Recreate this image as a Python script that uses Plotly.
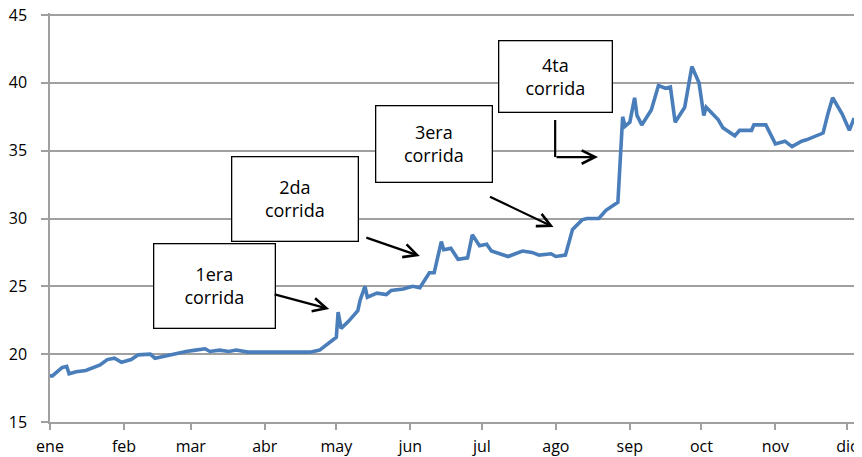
import plotly.graph_objects as go

dates = [
    "2018-01-01", "2018-01-02", "2018-01-06", "2018-01-08", "2018-01-09", "2018-01-12",
    "2018-01-16", "2018-01-19", "2018-01-22", "2018-01-25", "2018-01-28", "2018-01-31",
    "2018-02-04", "2018-02-07", "2018-02-12", "2018-02-14", "2018-02-19", "2018-02-23",
    "2018-02-27", "2018-03-03", "2018-03-07", "2018-03-09", "2018-03-13", "2018-03-17",
    "2018-03-20", "2018-03-25", "2018-04-20", "2018-04-24", "2018-04-27", "2018-05-01",
    "2018-05-01 18:00", "2018-05-03", "2018-05-06", "2018-05-10", "2018-05-11", "2018-05-13",
    "2018-05-14", "2018-05-18", "2018-05-22", "2018-05-24", "2018-05-29", "2018-06-02",
    "2018-06-05", "2018-06-09", "2018-06-11", "2018-06-14", "2018-06-15", "2018-06-18",
    "2018-06-21", "2018-06-25", "2018-06-27", "2018-06-30", "2018-07-03", "2018-07-05",
    "2018-07-12", "2018-07-18", "2018-07-22", "2018-07-25", "2018-07-30", "2018-08-01",
    "2018-08-05", "2018-08-08", "2018-08-12", "2018-08-14", "2018-08-19", "2018-08-22",
    "2018-08-27", "2018-08-29", "2018-08-30", "2018-09-01", "2018-09-03", "2018-09-04",
    "2018-09-06", "2018-09-10", "2018-09-13", "2018-09-16", "2018-09-18", "2018-09-20",
    "2018-09-24", "2018-09-27", "2018-09-30", "2018-10-02", "2018-10-03", "2018-10-08",
    "2018-10-10", "2018-10-15", "2018-10-17", "2018-10-22", "2018-10-23", "2018-10-28",
    "2018-11-01", "2018-11-05", "2018-11-08", "2018-11-12", "2018-11-14", "2018-11-21",
    "2018-11-23", "2018-11-25", "2018-11-29", "2018-12-02", "2018-12-04",
]
values = [
    18.4, 18.4, 19.0, 19.1, 18.55, 18.7,
    18.8, 19.0, 19.2, 19.6, 19.7, 19.4,
    19.6, 19.95, 20.0, 19.7, 19.9, 20.0,
    20.2, 20.3, 20.4, 20.2, 20.3, 20.2,
    20.3, 20.15, 20.15, 20.3, 20.7, 21.25,
    23.1, 21.9, 22.4, 23.2, 24.0, 25.0,
    24.2, 24.5, 24.4, 24.7, 24.8, 25.0,
    24.9, 26.0, 26.0, 28.3, 27.7, 27.8,
    27.0, 27.1, 28.8, 28.0, 28.1, 27.6,
    27.2, 27.6, 27.5, 27.3, 27.4, 27.2,
    27.3, 29.2, 29.9, 30.0, 30.0, 30.6,
    31.2, 37.5, 36.8, 37.1, 38.9, 37.6,
    36.9, 38.0, 39.8, 39.6, 39.7, 37.1,
    38.2, 41.2, 40.0, 37.6, 38.2, 37.3,
    36.7, 36.1, 36.5, 36.5, 36.9, 36.9,
    35.5, 35.7, 35.3, 35.7, 35.8, 36.3,
    37.7, 38.9, 37.7, 36.5, 37.4,
]

month_ticks = ["2018-01-01", "2018-02-01", "2018-03-01", "2018-04-01", "2018-05-01", "2018-06-01",
               "2018-07-01", "2018-08-01", "2018-09-01", "2018-10-01", "2018-11-01", "2018-12-01"]
month_labels = ["ene", "feb", "mar", "abr", "may", "jun", "jul", "ago", "sep", "oct", "nov", "dic"]
y_ticks = [15, 20, 25, 30, 35, 40, 45]

box_texts = ["1era<br>corrida", "2da<br>corrida", "3era<br>corrida", "4ta<br>corrida"]
box_x = ["2018-03-11", "2018-04-13 12:00", "2018-06-11", "2018-07-31 17:00"]
box_y = [25.06, 31.47, 35.52, 40.5]
box_w = [116, 121, 111, 108]
box_h = [79, 79, 71, 66]

arrow_x = ["2018-04-28", "2018-06-05", "2018-07-31", "2018-08-18 16:00"]
arrow_y = [23.33, 27.23, 29.37, 34.53]
arrow_ax = [-56, -55, -65, -43]
arrow_ay = [-15, -19, -31, 0]
elbow_x = "2018-07-31 17:00"
elbow_top = 37.26

GRID = "#a0a0a0"
FONT = "Open Sans"

fig = go.Figure()
fig.add_trace(go.Scatter(
    x=dates, y=values, mode="lines",
    line=dict(color="#4A7EBB", width=3.6),
    showlegend=False, hoverinfo="skip",
))

annotations = []
for t, x, y, w, h in zip(box_texts, box_x, box_y, box_w, box_h):
    annotations.append(dict(
        x=x, y=y, xref="x", yref="y", text=t, showarrow=False,
        width=w, height=h, align="center", valign="middle",
        bgcolor="white", bordercolor="black", borderwidth=1.3, borderpad=2,
        font=dict(family=FONT, size=18, color="black"),
    ))
for x, y, ax, ay in zip(arrow_x, arrow_y, arrow_ax, arrow_ay):
    annotations.append(dict(
        x=x, y=y, xref="x", yref="y", ax=ax, ay=ay, text="",
        showarrow=True, arrowhead=5, arrowsize=1.2, arrowwidth=2.2, arrowcolor="black",
    ))

# page body has an 8px margin, so the figure is sized to fit the 862x457 window
fig.update_layout(
    width=854, height=449,
    margin=dict(l=42, r=5, t=5, b=35),
    paper_bgcolor="white", plot_bgcolor="white",
    annotations=annotations,
    shapes=[dict(type="line", xref="x", yref="y",
                 x0=elbow_x, x1=elbow_x, y0=arrow_y[3], y1=elbow_top,
                 line=dict(color="black", width=2.2))],
    font=dict(family=FONT, size=16, color="black"),
)

fig.update_xaxes(
    type="date", range=["2018-01-01", "2018-12-05 05:00"],
    tickvals=month_ticks, ticktext=month_labels,
    showgrid=False, showline=True, linecolor=GRID, linewidth=1.5,
    ticks="outside", ticklen=6, tickcolor=GRID, tickwidth=1.5,
    tickfont=dict(family=FONT, size=16, color="black"),
    ticklabelstandoff=3, ticklabeloverflow="allow",
    zeroline=False, automargin=False,
)
fig.update_yaxes(
    range=[15, 45.15], tickvals=y_ticks,
    showgrid=True, gridcolor=GRID, gridwidth=1.5,
    showline=True, linecolor=GRID, linewidth=1.5,
    ticks="outside", ticklen=7, tickcolor=GRID, tickwidth=1.5,
    tickfont=dict(family=FONT, size=16, color="black"),
    ticklabelstandoff=11, ticklabeloverflow="allow",
    zeroline=False, automargin=False,
)

fig.write_html("out.html")
